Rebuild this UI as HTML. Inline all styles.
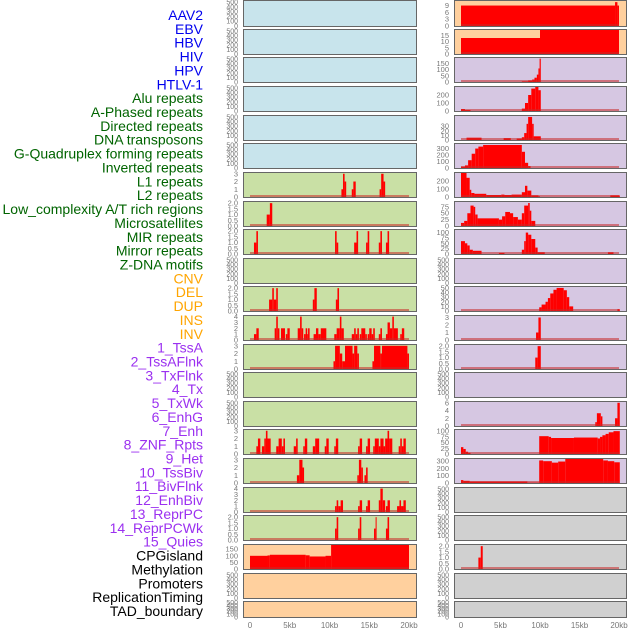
<!DOCTYPE html>
<html><head><meta charset="utf-8"><style>
body{margin:0;background:#fff;width:630px;height:630px;overflow:hidden}
svg{display:block}
</style></head><body>
<svg id="chart" width="630" height="630" xmlns="http://www.w3.org/2000/svg"></svg>
<script>
// ---- labels ----
const labels=["AAV2","EBV","HBV","HIV","HPV","HTLV-1","Alu repeats","A-Phased repeats","Directed repeats","DNA transposons","G-Quadruplex forming repeats","Inverted repeats","L1 repeats","L2 repeats","Low_complexity A/T rich regions","Microsatellites","MIR repeats","Mirror repeats","Z-DNA motifs","CNV","DEL","DUP","INS","INV","1_TssA","2_TssAFlnk","3_TxFlnk","4_Tx","5_TxWk","6_EnhG","7_Enh","8_ZNF_Rpts","9_Het","10_TssBiv","11_BivFlnk","12_EnhBiv","13_ReprPC","14_ReprPCWk","15_Quies","CPGisland","Methylation","Promoters","ReplicationTiming","TAD_boundary"];
const labelGroups=[6,13,5,15,5];
const groupColors=["#0000ee","#006400","#ffa500","#9b30f0","#000000"];
const xTicks=[0,5,10,15,20];
const xTickLabels=["0","5kb","10kb","15kb","20kb"];
const t500=[0,100,200,300,400,500];
// ---- left column series (segments: startKb, endKb, value) ----
const L6=[[11.5,11.7,1],[11.7,11.9,3],[11.9,12.1,2],[12.8,13.0,1],[13.0,13.3,2],[16.3,16.5,1],[16.5,16.8,3],[16.8,17.0,2]];
const L7=[[2.1,2.5,1],[2.5,2.8,2]];
const L8=[[0.5,0.8,1],[0.8,1.0,2],[10.7,10.9,2],[10.9,11.1,1],[13.1,13.4,1],[13.4,13.6,2],[14.6,14.8,1],[14.8,15.0,2],[16.2,16.4,1],[16.4,16.6,2],[17.1,17.3,1],[17.3,17.5,2]];
const L10=[[2.4,2.8,1],[2.8,3.0,2],[3.0,3.3,1],[3.3,3.5,2],[7.9,8.1,1],[8.1,8.4,2],[10.8,11.0,1],[11.0,11.2,2]];
const L11=[[0.5,0.8,1],[0.8,1.1,2],[3.1,3.3,2],[3.3,3.5,4],[3.5,3.7,2],[3.9,4.4,2],[4.5,4.7,1],[4.7,5.0,2],[6.0,6.3,2],[6.3,6.5,4],[6.5,6.7,2],[6.8,7.0,1],[7.0,7.2,2],[7.2,7.3,1],[7.3,7.5,2],[8.0,8.3,1],[8.3,8.6,2],[8.6,8.9,1],[8.9,9.6,2],[10.6,10.9,1],[10.9,11.3,2],[11.3,11.5,4],[11.5,11.8,2],[12.8,13.1,1],[13.1,13.3,2],[13.3,13.5,1],[13.5,13.7,2],[13.8,14.0,1],[14.0,14.5,2],[14.5,14.7,1],[14.8,15.0,1],[15.0,15.3,2],[15.3,15.5,1],[15.5,15.7,2],[16.2,16.4,1],[16.4,16.6,2],[17.1,17.3,1],[17.3,17.6,3],[17.6,17.9,2],[17.9,18.1,4],[18.1,18.6,2],[18.9,19.1,1],[19.1,19.4,2]];
const L12=[[10.5,10.7,1],[10.7,11.3,3],[11.3,11.6,2],[11.6,11.95,1],[11.95,12.9,3],[12.9,13.1,2],[13.1,13.5,3],[13.5,13.7,2],[15.4,15.6,1],[15.6,16.4,3],[16.4,16.6,2],[16.6,19.8,3],[19.8,20.0,2]];
const L15=[[0.8,1.0,1],[1.0,1.3,2],[1.5,1.8,1],[1.8,2.0,2],[2.0,2.2,3],[2.2,2.6,2],[3.3,3.6,1],[3.6,4.0,2],[4.0,4.2,1],[4.2,4.4,2],[5.5,5.8,1],[5.8,6.0,2],[6.7,6.9,1],[6.9,7.2,2],[7.9,8.2,1],[8.2,8.7,2],[9.4,9.6,1],[9.6,9.9,2],[10.6,10.8,1],[10.8,11.1,2],[13.6,13.8,1],[13.8,14.1,2],[14.6,14.8,1],[14.8,15.1,2],[15.5,15.7,1],[15.7,16.2,2],[16.2,16.4,1],[16.4,16.8,2],[16.8,17.0,1],[17.0,17.3,2],[17.3,17.5,3],[17.5,17.9,2],[18.7,18.9,1],[18.9,19.1,2],[19.1,19.3,1],[19.3,19.6,2]];
const L16=[[5.9,6.2,1],[6.2,6.6,3],[6.6,6.8,2],[13.5,13.7,1],[13.7,14.0,3],[14.0,14.2,2],[14.4,14.6,1],[14.6,14.8,2]];
const L17=[[10.7,10.9,1],[10.9,11.1,2],[11.1,11.4,1],[11.4,11.7,2],[13.6,13.8,1],[13.8,14.1,2],[14.6,14.8,1],[14.8,15.1,2],[16.2,16.4,2],[16.4,16.7,4],[16.7,17.0,2],[17.1,17.3,1],[17.3,17.6,2],[18.5,18.8,1],[18.8,19.0,2],[19.0,19.3,1],[19.3,19.6,2]];
const L18=[[10.7,10.9,1],[10.9,11.1,2],[13.6,13.8,1],[13.8,14.0,2],[15.6,15.8,1],[15.8,15.9,2],[17.1,17.3,1],[17.3,17.5,2]];
const L19=[[0,2.2,100],[2.2,2.5,103],[2.5,7.0,108],[7.0,7.5,104],[7.5,9.5,95],[9.5,10.2,100],[10.2,20,190]];
// ---- right column series ----
const R0=[[0,19.5,9],[19.5,19.8,10.5],[19.8,20,9]];
const R1=[[0,10,13],[10,20,21]];
const R2=[[7.7,8.5,5],[8.5,9.0,12],[9.0,9.3,20],[9.3,9.6,35],[9.6,9.8,60],[9.8,9.95,110],[9.95,10.1,190]];
const R3=[[0,0.5,25],[0.5,1.2,12],[7.7,8.1,30],[8.1,8.5,100],[8.5,8.9,200],[8.9,9.4,280],[9.4,9.8,300],[9.8,10.1,260]];
const R4=[[0.7,2.6,5],[5.4,6.3,4],[7.05,7.7,3],[7.7,8.0,6],[8.0,8.3,15],[8.3,8.5,35],[8.5,9.0,50],[9.0,9.2,35],[9.2,10.1,8]];
const R5=[[0,0.5,20],[0.5,0.9,40],[0.9,1.35,120],[1.35,1.8,220],[1.8,2.2,300],[2.2,2.8,330],[2.8,7.7,355],[7.7,8.1,250],[8.1,8.5,80],[8.5,8.8,30]];
const R6=[[0,0.7,300],[0.7,1.1,240],[1.1,1.3,90],[1.3,1.7,50],[1.7,3.2,40],[3.2,5.1,25],[5.1,5.5,30],[5.5,6.4,25],[6.4,7.7,30],[7.7,8.1,60],[8.1,8.4,140],[8.4,8.9,80],[8.9,9.8,20],[9.8,10.0,8],[18.9,20.1,20]];
const R7=[[0,0.4,12],[0.4,0.8,20],[0.8,1.2,50],[1.2,1.6,80],[1.6,1.8,75],[1.8,2.1,45],[2.1,4.8,30],[4.8,5.2,25],[5.2,5.6,38],[5.6,6.2,55],[6.2,6.6,50],[6.6,7.2,35],[7.2,7.7,25],[7.7,8.0,50],[8.0,8.5,80],[8.5,8.7,90],[8.7,8.9,60],[8.9,9.4,20]];
const R8=[[0,0.5,60],[0.5,0.8,50],[0.8,1.1,40],[1.1,1.5,20],[1.5,2.6,15],[4.8,5.5,5],[7.7,8.0,20],[8.0,8.2,60],[8.2,8.5,100],[8.5,8.9,90],[8.9,9.4,70],[9.4,9.7,30],[9.7,10.6,8],[18.6,19.3,8]];
const R10=[[9.9,10.2,8],[10.2,10.7,14],[10.7,11.0,20],[11.0,11.3,28],[11.3,11.7,38],[11.7,12.1,46],[12.1,13.0,50],[13.0,13.4,45],[13.4,13.7,30],[13.7,14.2,10],[19.8,20.1,4]];
const R11=[[9.5,9.8,1],[9.8,10.1,3]];
const R12=[[9.4,9.7,1],[9.7,10.1,2]];
const R14=[[17.0,17.2,1],[17.2,17.7,3.3],[17.7,17.9,2.5],[19.5,19.8,2],[19.8,20.1,6]];
const R15=[[0,0.3,30],[0.3,0.6,22],[0.6,0.9,10],[0.9,1.2,5],[9.9,11.1,78],[11.1,11.4,75],[11.4,14.3,70],[14.3,17.3,72],[17.3,17.6,68],[17.6,17.9,75],[17.9,18.3,82],[18.3,18.7,88],[18.7,19.3,95],[19.3,20.1,100]];
const R16=[[0,0.3,40],[0.3,1.1,30],[1.1,8.4,20],[8.4,9.9,5],[9.9,10.4,310],[10.4,11.5,300],[11.5,12.3,280],[12.3,13.2,295],[13.2,18.0,330],[18.0,18.6,310],[18.6,19.4,300],[19.4,20.1,285]];
const R19=[[2.2,2.5,1],[2.5,2.75,2]];

const rowTops=[0,29,57,86,115,143,172,201,229,258,286,315,344,372,401,429,458,487,515,544,573,601];
const BG={b:"#c8e4ec",g:"#c9e0a5",o:"#ffd09e",p:"#d6c7e2",y:"#d0d0d0"};
const leftPanels=[
 ["b",520,t500,null],["b",520,t500,null],["b",520,t500,null],["b",520,t500,null],["b",520,t500,null],["b",520,t500,null],
 ["g",3.1,[0,1,2,3],L6],["g",2.1,[0,0.5,1,1.5,2],L7,1],["g",2.1,[0,0.5,1,1.5,2],L8,1],["g",520,t500,null],
 ["g",2.1,[0,0.5,1,1.5,2],L10,1],["g",4.1,[0,1,2,3,4],L11],["g",3.1,[0,1,2,3],L12],["g",520,t500,null],["g",520,t500,null],
 ["g",3.1,[0,1,2,3],L15],["g",3.1,[0,1,2,3],L16],["g",4.1,[0,1,2,3,4],L17],["g",2.1,[0,0.5,1,1.5,2],L18,1],
 ["o",182,[0,50,100,150],L19],["o",520,t500,null],["o",520,t500,null]];
const rightPanels=[
 ["o",11,[0,3,6,9],R0],["o",19.5,[0,5,10,15],R1],["p",195,[0,50,100,150],R2],["p",300,[0,100,200],R3],
 ["p",52,[0,10,20,30],R4],["p",370,[0,100,200,300],R5],["p",300,[0,100,200],R6],["p",94,[0,25,50,75],R7],
 ["p",112,[0,25,50,75,100],R8],["p",520,t500,null],["p",52,[0,10,20,30,40,50],R10],["p",3.2,[0,1,2,3],R11],
 ["p",2.1,[0,0.5,1,1.5,2],R12,1],["p",520,t500,null],["p",6.2,[0,2,4,6],R14],["p",105,[0,25,50,75,100],R15],
 ["p",330,[0,100,200,300],R16],["y",520,t500,null],["y",520,t500,null],["y",2.1,[0,0.5,1,1.5,2],R19,1],
 ["y",520,t500,null],["y",520,t500,null]];

const NS="http://www.w3.org/2000/svg";
const svg=document.getElementById("chart");
function mk(tag,attrs,parent){const e=document.createElementNS(NS,tag);for(const k in attrs)e.setAttribute(k,attrs[k]);(parent||svg).appendChild(e);return e;}

let li=0;
labelGroups.forEach((n,g)=>{for(let i=0;i<n;i++){const t=mk("text",{x:203,y:15+li*13.86+5,"text-anchor":"end","font-family":"Liberation Sans, sans-serif","font-size":"14",fill:groupColors[g]});
t.textContent=labels[li];


li++;}});

function drawCol(panels,x0,x1,kx0,kx1,tickX,colName){
 const xs=kb=>kx0+(kb/20)*(kx1-kx0);
 panels.forEach((p,i)=>{
  const top=rowTops[i],h=(i===21?16:(i===0?26:25)),bot=top+h;
  const g=mk("g",{});
  
  
  mk("rect",{x:x0+0.5,y:top+0.5,width:x1-x0,height:h,fill:BG[p[0]],stroke:"#666","stroke-width":1},g);
  const ys=v=>bot-Math.min(v,p[1])/p[1]*(h-1);
  const fs=p[3]?"7.5":"7";
  p[2].forEach(tv=>{const t=mk("text",{x:tickX,y:ys(tv)+2.5,"text-anchor":"end","font-family":"Liberation Sans, sans-serif","font-size":fs,fill:"#777"},g);
   t.textContent=p[4]?tv.toFixed(1):String(tv);
   
   });
  if(p[3]){
   p[3].forEach(s=>{const r=mk("rect",{x:xs(s[0]),y:ys(s[2]),width:Math.max(1,xs(s[1])-xs(s[0])),height:bot-ys(s[2]),fill:"#ff0000"},g);
    
    });
   const bl=mk("rect",{x:xs(0),y:bot-2,width:xs(20)-xs(0),height:2,fill:"rgba(200,40,40,0.55)"},g);
   
   
  }
 });
 xTicks.forEach((v,j)=>{const t=mk("text",{x:xs(v),y:628,"text-anchor":"middle","font-family":"Liberation Sans, sans-serif","font-size":"8",fill:"#777"});
  t.textContent=xTickLabels[j];
  
  });
}
drawCol(leftPanels,243,416,250,409,238,"left");
drawCol(rightPanels,454,626,461,619,449,"right");
</script>
</body></html>
